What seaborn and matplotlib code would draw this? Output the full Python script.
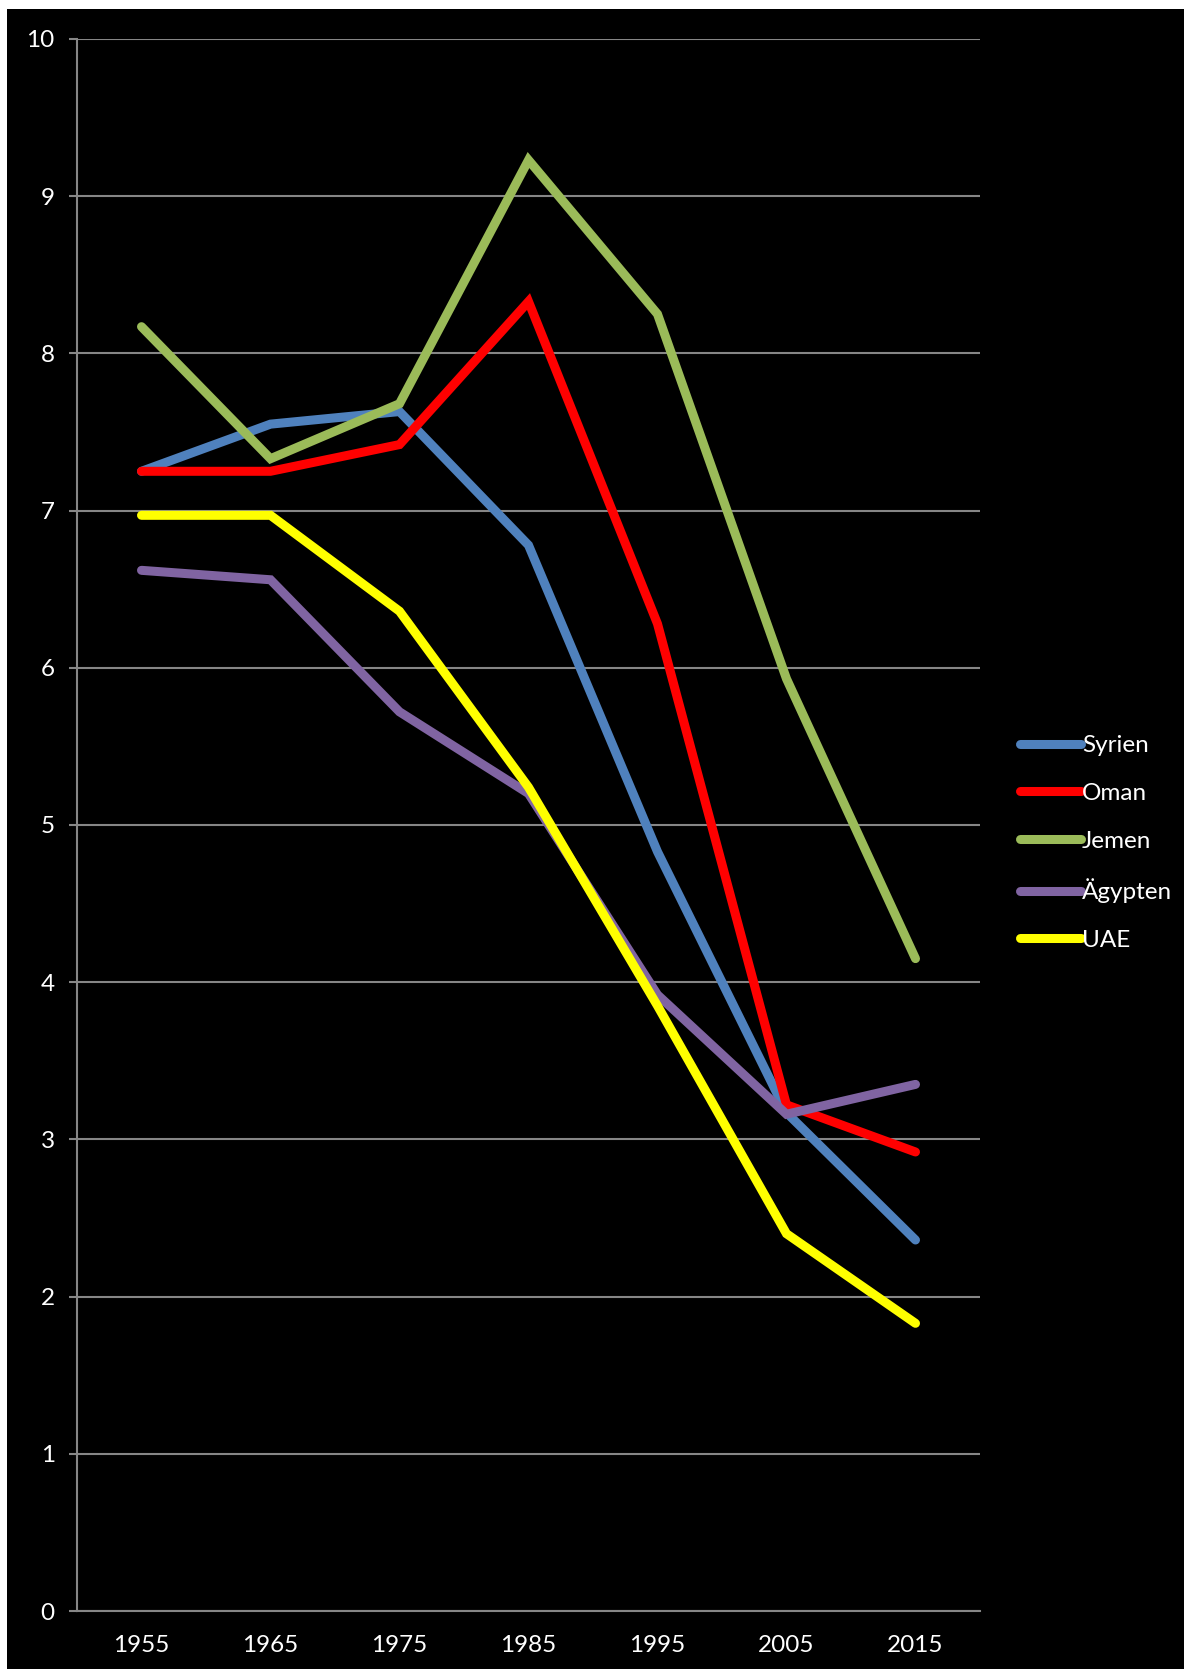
import matplotlib
matplotlib.use("Agg")
import matplotlib.pyplot as plt
import matplotlib.ticker as mticker
from matplotlib.patches import Rectangle
import pandas as pd
import seaborn as sns

years = ["1955", "1965", "1975", "1985", "1995", "2005", "2015"]
syrien = [7.25, 7.55, 7.63, 6.78, 4.83, 3.17, 2.36]
oman = [7.25, 7.25, 7.42, 8.33, 6.28, 3.22, 2.92]
jemen = [8.17, 7.33, 7.68, 9.23, 8.25, 5.93, 4.15]
aegypten = [6.62, 6.56, 5.72, 5.20, 3.92, 3.16, 3.35]
uae = [6.97, 6.97, 6.36, 5.24, 3.85, 2.40, 1.83]

countries = ["Syrien", "Oman", "Jemen", "Ägypten", "UAE"]
colors = ["#4F81BD", "#FF0000", "#9BBB59", "#8064A2", "#FFFF00"]

series = dict(zip(countries, [syrien, oman, jemen, aegypten, uae]))
df = pd.DataFrame(
    [(y, c, v) for c in countries for y, v in zip(years, series[c])],
    columns=["Jahr", "Land", "Wert"],
)
df["pos"] = df["Jahr"].map({y: i for i, y in enumerate(years)})

sns.set_style("dark")
plt.rcParams["font.family"] = ["Lato", "DejaVu Sans"]

GRID = "#868686"
W, H = 1184, 1669
fig = plt.figure(figsize=(W / 100, H / 100), dpi=100, facecolor="white")
fig.patches.append(Rectangle((7 / W, 0), 1, 1 - 9 / H, transform=fig.transFigure,
                             facecolor="black", edgecolor="none", zorder=-10))

ax = fig.add_axes([77 / W, 1 - 1611 / H, (980 - 77) / W, (1611 - 39) / H])
ax.set_facecolor("black")

sns.lineplot(data=df, x="pos", y="Wert", hue="Land", hue_order=countries,
             palette=dict(zip(countries, colors)), linewidth=6.5,
             solid_capstyle="round", solid_joinstyle="miter", ax=ax)

ax.set_xlim(-0.5, 6.5)
ax.set_ylim(0, 10)
ax.set_xticks(range(len(years)))
ax.set_xticklabels(years)
ax.xaxis.set_minor_locator(mticker.FixedLocator([i - 0.5 for i in range(len(years) + 1)]))
ax.set_yticks(range(0, 11))
ax.tick_params(axis="x", which="major", length=0, pad=17, labelsize=17.5, colors="white")
ax.tick_params(axis="x", which="minor", length=6, width=1.5, color=GRID, direction="out")
ax.tick_params(axis="y", length=6, width=1.5, color=GRID, labelcolor="white",
               labelsize=17.5, pad=10, direction="out", left=True)
ax.xaxis.grid(False)
ax.yaxis.grid(True, color=GRID, linewidth=1.5)
for s in ["top", "right"]:
    ax.spines[s].set_visible(False)
for s in ["left", "bottom"]:
    ax.spines[s].set_visible(True)
    ax.spines[s].set_color(GRID)
    ax.spines[s].set_linewidth(1.5)
ax.set_xlabel("")
ax.set_ylabel("")

leg = ax.legend(loc="center left", bbox_to_anchor=(1020 / W, 1 - 843 / H),
                bbox_transform=fig.transFigure, frameon=False, fontsize=17.5,
                handlelength=2.5, handletextpad=0.05, labelspacing=1.1,
                borderpad=0, borderaxespad=0)
for t in leg.get_texts():
    t.set_color("white")
for h in leg.get_lines():
    h.set_linewidth(6.5)
    h.set_solid_capstyle("round")

fig.savefig("out.png", dpi=100, facecolor="white")
